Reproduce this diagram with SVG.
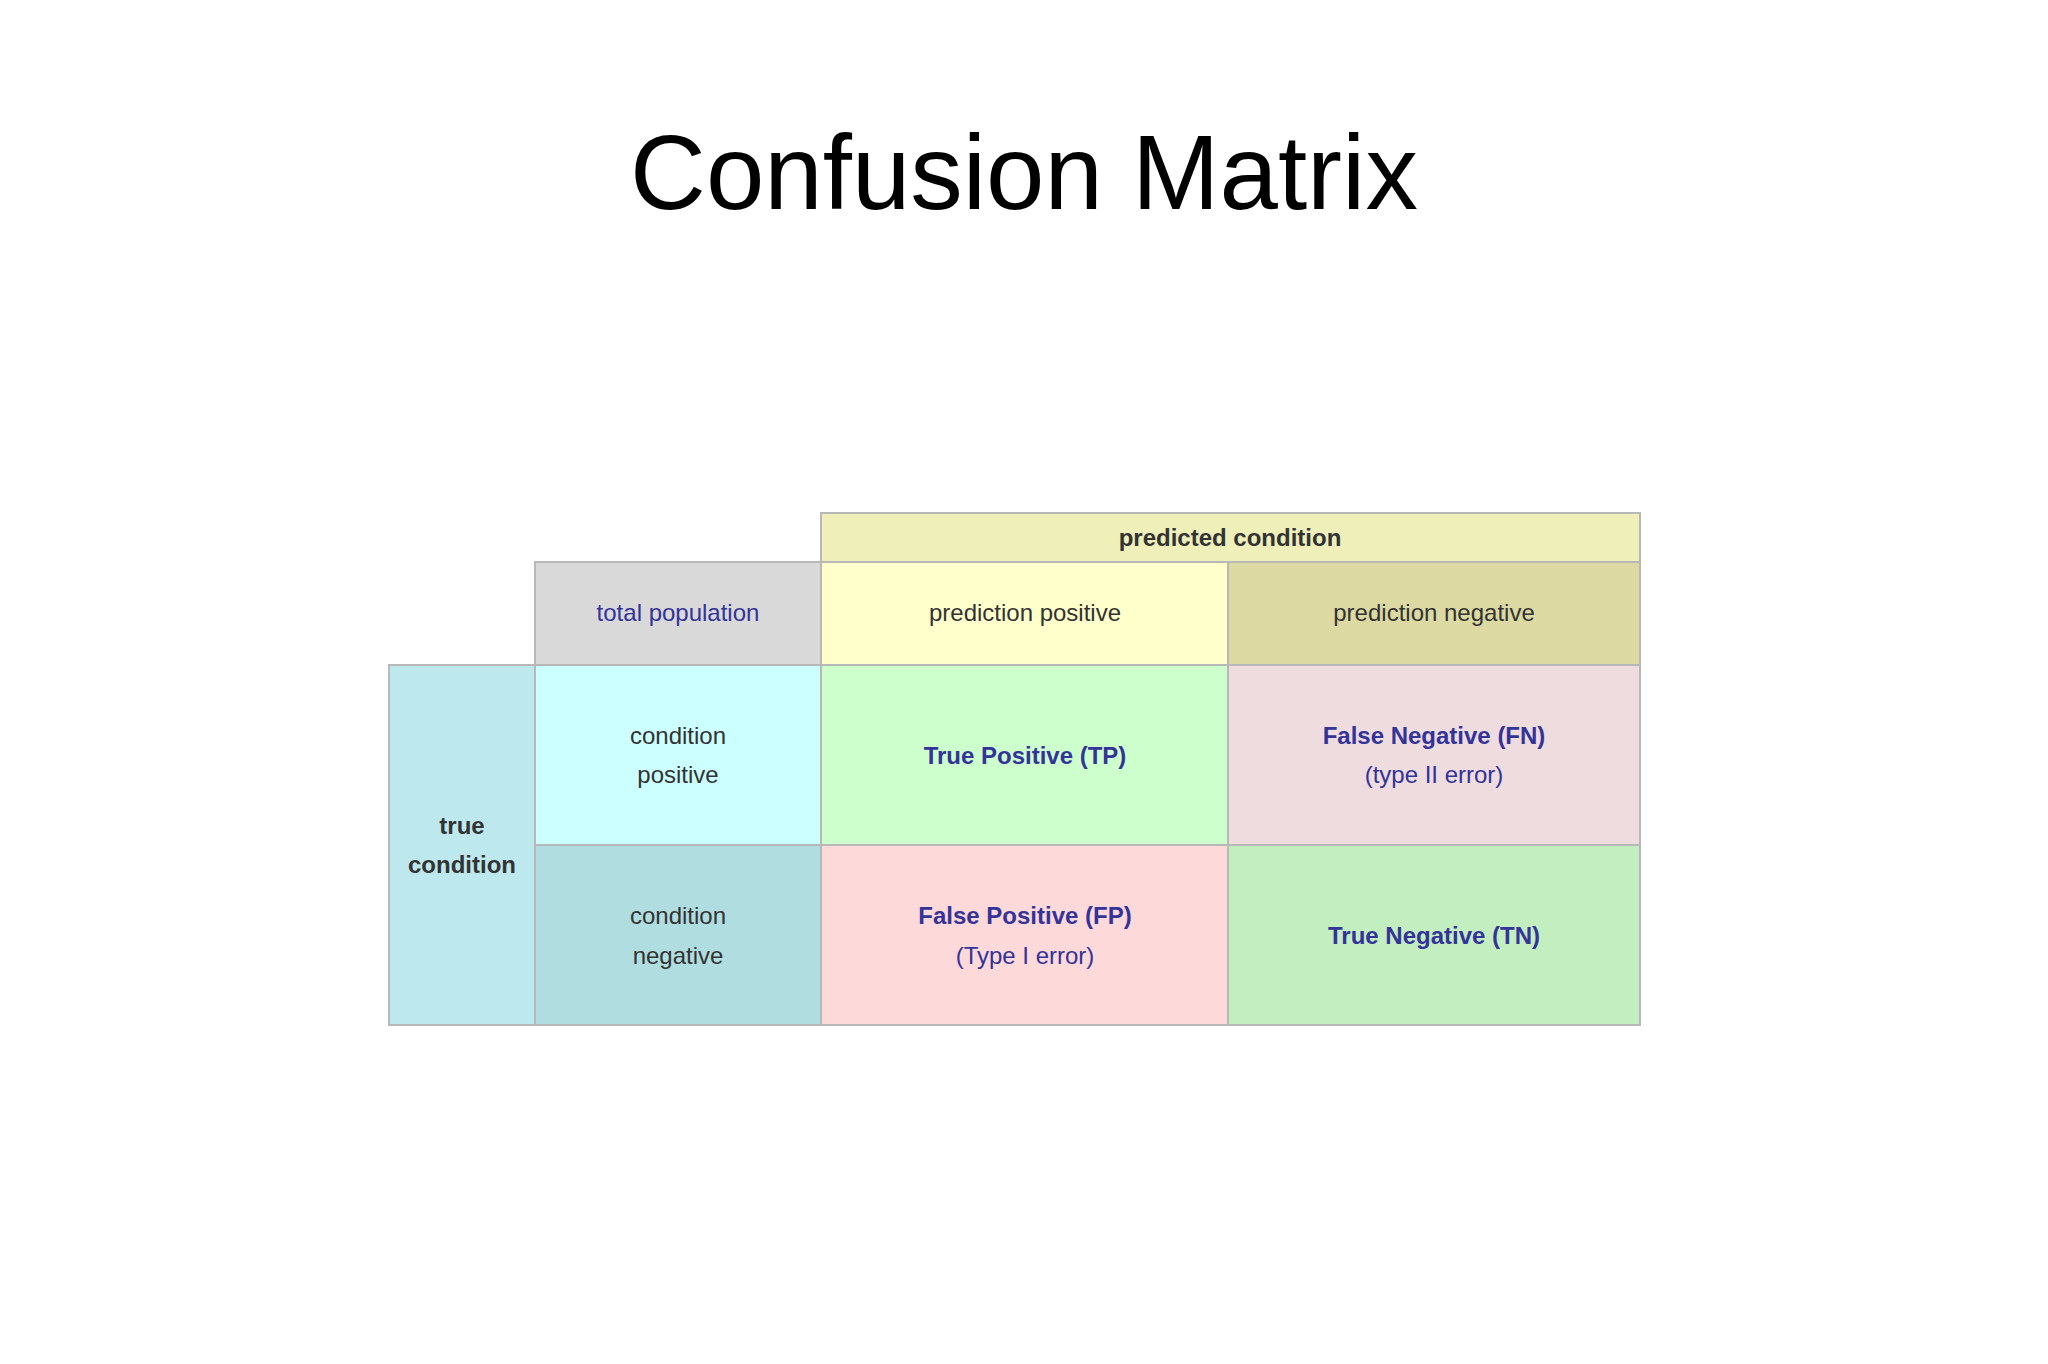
<svg xmlns="http://www.w3.org/2000/svg" width="2048" height="1364" viewBox="0 0 2048 1364">
<style>
.c{stroke:#b8b8b8;stroke-width:2}
text{font-family:"Liberation Sans",Arial,sans-serif;font-size:24px;text-anchor:middle;dominant-baseline:central;fill:#333}
.b{font-weight:bold}
.blue{fill:#333399}
</style>
<rect width="2048" height="1364" fill="#fff"/>
<text x="1024" y="172" style="font-size:105px;fill:#000">Confusion Matrix</text>
<g id="predicted-condition"><rect class="c" x="821" y="513" width="819" height="49" fill="#eeefb9"/><text class="b" x="1230" y="537">predicted condition</text></g>
<g id="total-population"><rect class="c" x="535" y="562" width="286" height="103" fill="#d9d9d9"/><text class="blue" x="678" y="612">total population</text></g>
<g id="prediction-positive"><rect class="c" x="821" y="562" width="407" height="103" fill="#ffffcc"/><text x="1025" y="612">prediction positive</text></g>
<g id="prediction-negative"><rect class="c" x="1228" y="562" width="412" height="103" fill="#dcdaa2"/><text x="1434" y="612">prediction negative</text></g>
<g id="true-condition"><rect class="c" x="389" y="665" width="146" height="360" fill="#bde9ee"/><text class="b" x="462" y="825">true</text><text class="b" x="462" y="864">condition</text></g>
<g id="condition-positive"><rect class="c" x="535" y="665" width="286" height="180" fill="#ccffff"/><text x="678" y="735">condition</text><text x="678" y="774">positive</text></g>
<g id="condition-negative"><rect class="c" x="535" y="845" width="286" height="180" fill="#b0dde0"/><text x="678" y="915">condition</text><text x="678" y="955">negative</text></g>
<g id="tp"><rect class="c" x="821" y="665" width="407" height="180" fill="#ccffcc"/><text class="b blue" x="1025" y="755">True Positive (TP)</text></g>
<g id="fn"><rect class="c" x="1228" y="665" width="412" height="180" fill="#eedcdf"/><text class="b blue" x="1434" y="735">False Negative (FN)</text><text class="blue" x="1434" y="774">(type II error)</text></g>
<g id="fp"><rect class="c" x="821" y="845" width="407" height="180" fill="#fdd9d9"/><text class="b blue" x="1025" y="915">False Positive (FP)</text><text class="blue" x="1025" y="955">(Type I error)</text></g>
<g id="tn"><rect class="c" x="1228" y="845" width="412" height="180" fill="#c3eec0"/><text class="b blue" x="1434" y="935">True Negative (TN)</text></g>
<g id="connectors"/>
</svg>
